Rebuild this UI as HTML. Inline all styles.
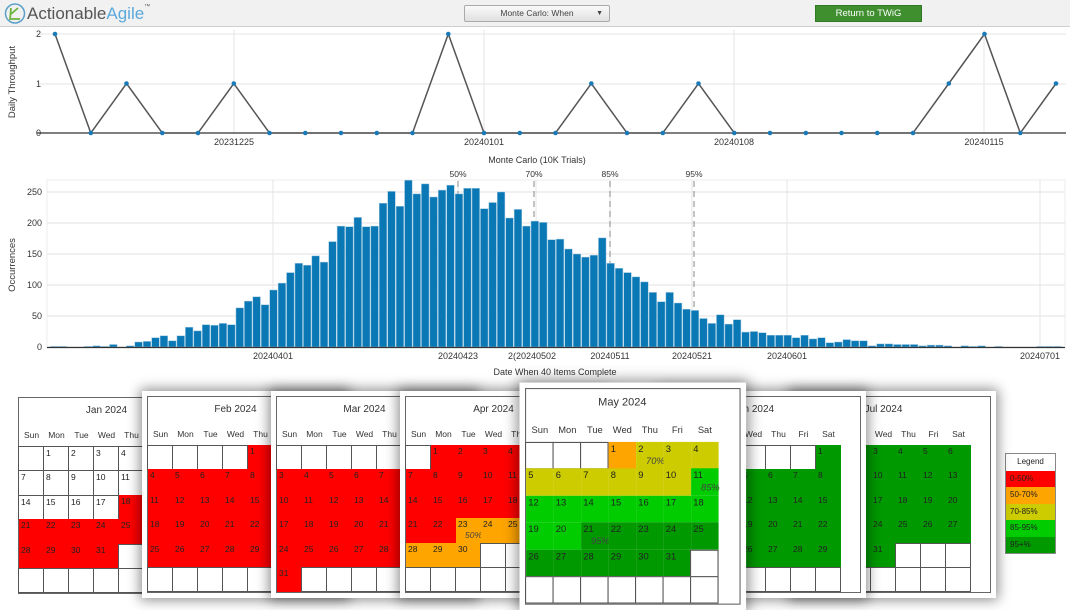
<!DOCTYPE html>
<html><head><meta charset="utf-8">
<style>
*{box-sizing:border-box}
body{margin:0;width:1070px;height:607px;overflow:hidden;background:#fff;font-family:"Liberation Sans",Arial,sans-serif;position:relative}
.hdr{position:absolute;left:0;top:0;width:1070px;height:27px;background:#f1f1f1;border-bottom:1px solid #cfcfcf}
.wrap{position:absolute;background:#fff;padding:5px}
.sh{box-shadow:0 0 12px 2px rgba(0,0,0,.45)}
.panel{position:relative;width:196px;height:197px;border:1px solid #666;background:#fff}
.title{position:absolute;left:0;width:175px;top:7px;text-align:center;font-size:10px;color:#333}
.dow{position:absolute;top:32px;width:25px;text-align:center;font-size:8.5px;color:#333}
.cell{position:absolute;font-size:8.5px;color:#222;padding:1px 0 0 2px}
.w{border:1px solid #555;background:#fff}
.pct{position:absolute;left:9px;top:12px;font-style:italic;font-size:8.5px;color:#444}
.legend{position:absolute;left:1005px;top:453px;width:51px;border:1px solid #888;font-size:8px;color:#222;background:#fff}
.legend div{height:16.5px;line-height:16.5px;padding-left:4px}
</style></head><body>
<div class="hdr">
 <svg width="30" height="27" style="position:absolute;left:3px;top:0">
  <circle cx="12" cy="13.5" r="9.5" fill="none" stroke="#5aa0c8" stroke-width="1.5"/>
  <path d="M7 20 L8 8 M8 14 L15 8 M8 19 L17 19" stroke="#6cb33f" stroke-width="1.8" fill="none"/>
 </svg>
 <div style="position:absolute;left:27px;top:4px;font-size:17px;color:#555">Actionable<span style="color:#5aa8dc">Agile</span><span style="font-size:6px;vertical-align:top">™</span></div>
 <div style="position:absolute;left:464px;top:5px;width:146px;height:17px;border:1px solid #aaa;border-radius:2px;background:linear-gradient(#fafafa,#e0e0e0);font-size:8.5px;color:#444;line-height:15px;text-align:center">Monte Carlo: When<span style="position:absolute;right:6px;font-size:7px">▼</span></div>
 <div style="position:absolute;left:815px;top:5px;width:107px;height:17px;background:#3f8f2f;border:1px solid #2f7a22;color:#fff;font-size:9.5px;line-height:15px;text-align:center">Return to TWiG</div>
</div>
<svg id="ch" width="1070" height="385" style="position:absolute;left:0;top:0" font-family="Liberation Sans, Arial, sans-serif" font-size="9" fill="#333"></svg>
<div id="cals"></div>
<div class="legend">
 <div style="background:#fff;text-align:center;padding:0">Legend</div>
 <div style="background:#ff0000">0-50%</div>
 <div style="background:#ffa500">50-70%</div>
 <div style="background:#cccc00">70-85%</div>
 <div style="background:#00cc00">85-95%</div>
 <div style="background:#009900">95+%</div>
</div>
<script>
var s='';
s+='<line x1="37" y1="34" x2="1066" y2="34" stroke="#e6e6e6"/><line x1="37" y1="84" x2="1066" y2="84" stroke="#e6e6e6"/>';
[234,484,734,984].forEach(function(x){s+='<line x1="'+x+'" y1="30" x2="'+x+'" y2="133" stroke="#e6e6e6"/>';});
s+='<line x1="37" y1="133" x2="1066" y2="133" stroke="#333" stroke-width="1.2"/>';
s+='<text x="41" y="37" text-anchor="end">2</text><text x="41" y="87" text-anchor="end">1</text><text x="41" y="136" text-anchor="end">0</text>';
s+='<text transform="translate(15,82) rotate(-90)" text-anchor="middle" font-size="9.5">Daily Throughput</text>';
[['20231225',234],['20240101',484],['20240108',734],['20240115',984]].forEach(function(a){s+='<text x="'+a[1]+'" y="145" text-anchor="middle">'+a[0]+'</text>';});
var v=[2,0,1,0,0,1,0,0,0,0,0,2,0,0,0,1,0,0,1,0,0,0,0,0,0,1,2,0,1],pts=[];
v.forEach(function(d,i){pts.push((55+i*35.75).toFixed(1)+','+(133-d*49.5));});
s+='<polyline points="'+pts.join(' ')+'" fill="none" stroke="#555" stroke-width="1.5"/>';
pts.forEach(function(p){var q=p.split(',');s+='<circle cx="'+q[0]+'" cy="'+q[1]+'" r="2.3" fill="#1a7ab8"/>';});
s+='<text x="537" y="163" text-anchor="middle">Monte Carlo (10K Trials)</text>';
s+='<rect x="47" y="180" width="1018" height="167" fill="none" stroke="#ececec"/>';
[0,50,100,150,200,250].forEach(function(t){var y=347-t*0.62;s+='<line x1="47" y1="'+y+'" x2="1065" y2="'+y+'" stroke="#e8e8e8" stroke-width="1.2"/><text x="42" y="'+(y+3)+'" text-anchor="end">'+t+'</text>';});
s+='<text transform="translate(15,265) rotate(-90)" text-anchor="middle" font-size="9.5">Occurrences</text>';
[['20240401',273],['20240423',458],['20240502',536],['20240511',610],['20240521',692],['20240601',787],['20240701',1040]].forEach(function(a){s+='<line x1="'+a[1]+'" y1="180" x2="'+a[1]+'" y2="347" stroke="#e6e6e6"/><text x="'+a[1]+'" y="359" text-anchor="middle">'+a[0]+'</text>';});
s+='<text x="512" y="359" text-anchor="middle">2(</text>';
s+='<text x="555" y="375" text-anchor="middle">Date When 40 Items Complete</text>';
[['50%',458],['70%',534],['85%',610],['95%',694]].forEach(function(a){s+='<text x="'+a[1]+'" y="177" text-anchor="middle" font-size="8.5">'+a[0]+'</text><line x1="'+a[1]+'" y1="181" x2="'+a[1]+'" y2="345" stroke="#888" stroke-dasharray="6,4"/>';});
var h=[1,1,0,0,1,2,1,4,0,2,8,9,15,18,10,18,32,26,36,35,38,36,63,74,81,68,92,103,120,135,132,147,137,170,195,194,209,194,195,232,251,227,269,247,263,242,253,261,247,256,256,223,233,250,208,222,195,203,201,173,174,158,150,145,148,176,135,127,120,113,105,88,73,88,71,61,59,46,38,52,37,44,24,25,23,19,19,19,15,19,13,15,7,8,12,10,10,2,5,5,4,4,4,2,3,3,2,0,2,1,2,0,1,0,0,0,0,1,1,1];
h.forEach(function(d,i){if(d<=0)return;var x=50.5+i*8.43,hh=d*0.62;s+='<rect x="'+x.toFixed(2)+'" y="'+(347-hh).toFixed(1)+'" width="7.6" height="'+hh.toFixed(1)+'" fill="#0a78b5" stroke="#9fc8e2" stroke-width="0.5"/>';});
s+='<line x1="47" y1="347.5" x2="1065" y2="347.5" stroke="#333" stroke-width="1.2"/>';
document.getElementById('ch').innerHTML=s;

var months=[['Jan 2024',1,31,1],['Feb 2024',4,29,2],['Mar 2024',5,31,3],['Apr 2024',1,30,4],['May 2024',3,31,5],['Jun 2024',6,30,6],['Jul 2024',1,31,7]];
var lefts=[18,148,277,406,525,666,796],zs=[1,2,3,4,10,6,5];
function col(m,d){var k=m*100+d;
 if(k<118)return null; if(k<423)return '#ff0000'; if(k<502)return '#ffa500'; if(k<511)return '#cccc00'; if(k<521)return '#00cc00'; return '#009900';}
var pct={423:'50%',502:'70%',511:'85%',521:'95%'};
var out='',dn=['Sun','Mon','Tue','Wed','Thu','Fri','Sat'];
months.forEach(function(mo,i){
 var L=lefts[i],T=397;
 var wrapStyle;
 if(i==0) wrapStyle='left:'+L+'px;top:'+T+'px;padding:0;z-index:1;background:transparent';
 else if(i==4) wrapStyle='left:'+(L-5)+'px;top:'+(388-5)+'px;z-index:10;transform:scale(1.1);transform-origin:5px 5px';
 else wrapStyle='left:'+(L-6)+'px;top:'+(T-6)+'px;z-index:'+zs[i];
 var p='<div class="wrap'+(i>0?' sh':'')+'" style="'+wrapStyle+'"><div class="panel">';
 p+='<div class="title">'+mo[0]+'</div>';
 dn.forEach(function(n,j){p+='<div class="dow" style="left:'+(j*25)+'px">'+n+'</div>';});
 for(var c=0;c<42;c++){
  var r=Math.floor(c/7),j=c%7,d=c-mo[1]+1,x=j*25-1,y=48+r*24.4;
  var inm=d>=1&&d<=mo[2],bg=inm?col(mo[3],d):null;
  if(bg){p+='<div class="cell" style="left:'+(x+1)+'px;top:'+y+'px;width:25px;height:24.5px;background:'+bg+'">'+d+(pct[mo[3]*100+d]?'<span class="pct">'+pct[mo[3]*100+d]+'</span>':'')+'</div>';}
  else{p+='<div class="cell w" style="left:'+x+'px;top:'+y+'px;width:26px;height:25.4px">'+(inm?d:'')+'</div>';}
 }
 p+='</div></div>';
 out+=p;
});
document.getElementById('cals').innerHTML=out;
</script>
</body></html>
